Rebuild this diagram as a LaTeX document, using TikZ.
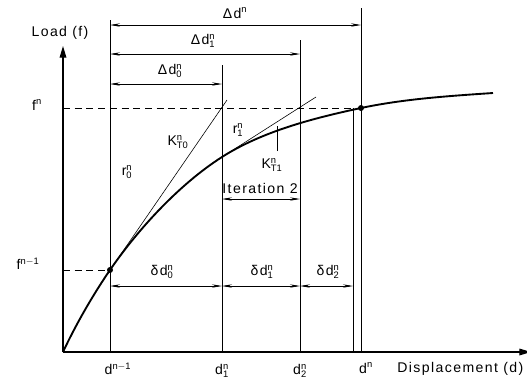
\documentclass[tikz,border=0pt]{standalone}
\usepackage{fontspec}
\setmainfont[LetterSpace=10]{Liberation Sans}
\usetikzlibrary{arrows.meta}
% value with stacked super- and subscript
\newcommand{\dsym}[3]{#1$^{\mathrm{#2}}_{\mathrm{#3}}$}

\begin{document}
\begin{tikzpicture}[
  x=0.3mm, y=-0.3mm,
  font=\fontsize{12}{14}\selectfont,
  thinline/.style={line width=0.5pt},
  axis/.style={line width=1pt, -{Triangle[length=3.5mm,width=2mm]}},
  load/.style={line width=1.6pt},
  dim/.style={line width=0.5pt, {Stealth[length=3mm,width=1mm]}-{Stealth[length=3mm,width=1mm]}},
  guide/.style={line width=0.5pt, dash pattern=on 6pt off 4pt},
  lbl/.style={inner sep=1pt}]
\useasboundingbox (0,0) rectangle (527,381);
% points of the load-displacement path
\coordinate (O) at (63,352);
\coordinate (ytip) at (63,46);
\coordinate (xend) at (531,352);
\coordinate (P0) at (110,270);
\coordinate (P1) at (222,157);
\coordinate (Pn) at (361,108);
\coordinate (Pend) at (493,93);
\coordinate (T0) at (227,100);
\coordinate (T1) at (316,97);
% axes
\draw[axis] (O) -- (ytip);
\draw[axis] (O) -- (xend);
% verticals
\draw[thinline] (110,20) -- (110,352);
\draw[thinline] (222,65) -- (222,352);
\draw[thinline] (300,40) -- (300,352);
\draw[thinline] (361,8) -- (361,352);
\draw[thinline] (353,108) -- (353,352);
% load levels
\draw[guide] (63,108) -- (Pn);
\draw[guide] (63,270) -- (P0);
% tangents
\draw[thinline] (P0) -- (T0);
\draw[thinline] (P1) -- (T1);
\draw[thinline] (277,151) -- (277,126);
% response curve
\draw[load] (O) .. controls +(12.7,-27.2) and +(-17,24.7) .. (P0)
  .. controls +(28.3,-41.2) and +(-42.2,26.9) .. (P1)
  .. controls +(40.5,-25.8) and +(-47,10) .. (Pn)
  .. controls +(43,-9.1) and +(-44,3) .. (Pend);
\fill (P0) circle (3);
\fill (Pn) circle (3);
% dimension lines
\draw[dim] (110,25) -- (361,25);
\draw[dim] (110,54) -- (300,54);
\draw[dim] (110,84) -- (222,84);
\draw[dim] (222,199) -- (300,199);
\draw[dim] (110,286) -- (222,286);
\draw[dim] (222,286) -- (300,286);
\draw[dim] (300,286) -- (353,286);
% labels
\node[lbl] (load) at (60,33) {Load (f)};
\node[lbl] (fn) at (37,105) {f$^{\mathrm{n}}$};
\node[lbl] (fn1) at (28,264) {f$^{\mathrm{n-1}}$};
\node[lbl] (xd0) at (118,369) {d$^{\mathrm{n-1}}$};
\node[lbl] (xd1) at (222,371) {\dsym{d}{n}{1}};
\node[lbl] (xd2) at (300,371) {\dsym{d}{n}{2}};
\node[lbl] (xdn) at (366,368) {d$^{\mathrm{n}}$};
\node[lbl, anchor=west] (xlab) at (396,369) {Displacement (d)};
\node[lbl] (Dn) at (235,13) {Δd$^{\mathrm{n}}$};
\node[lbl] (D1) at (203,41) {\dsym{Δd}{n}{1}};
\node[lbl] (D0) at (170,71) {\dsym{Δd}{n}{0}};
\node[lbl] (dd0) at (162,272) {\dsym{δd}{n}{0}};
\node[lbl] (dd1) at (262,272) {\dsym{δd}{n}{1}};
\node[lbl] (dd2) at (328,272) {\dsym{δd}{n}{2}};
\node[lbl] (r0) at (127,172) {\dsym{r}{n}{0}};
\node[lbl] (r1) at (238,130) {\dsym{r}{n}{1}};
\node[lbl] (K0) at (178,142) {\dsym{K}{n}{T0}};
\node[lbl] (K1) at (272,165) {\dsym{K}{n}{T1}};
\node[lbl] (it2) at (260,188) {Iteration 2};
\end{tikzpicture}
\end{document}
